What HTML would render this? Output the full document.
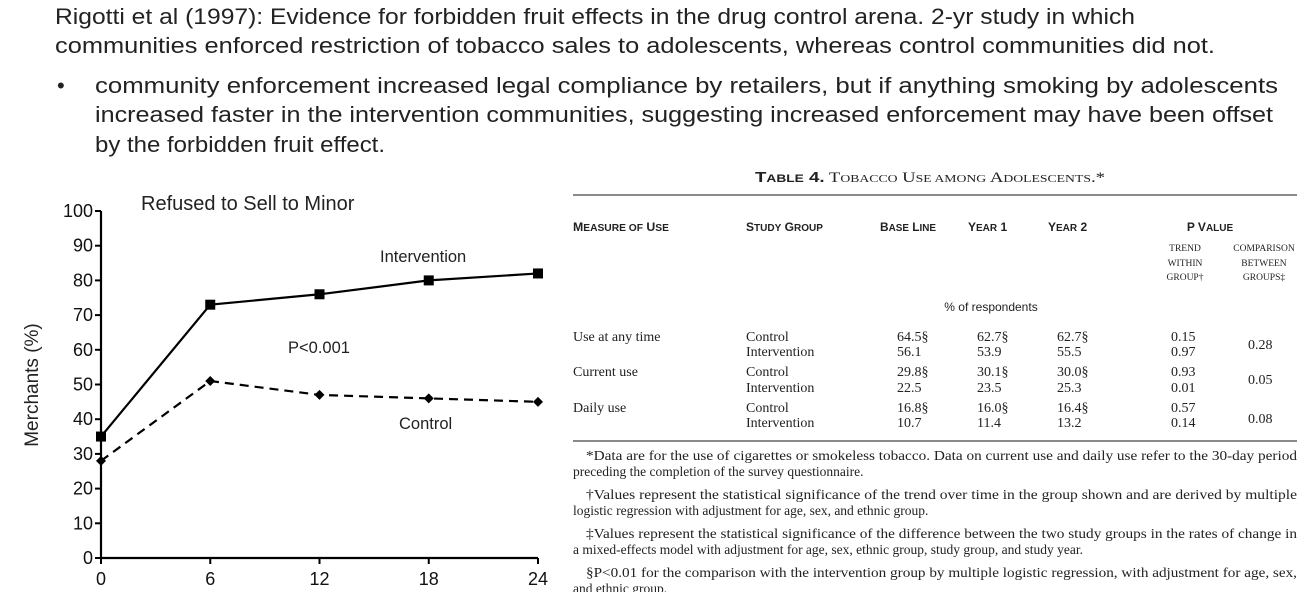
<!DOCTYPE html>
<html><head><meta charset="utf-8"><style>
html,body{margin:0;padding:0;background:#fff;width:1307px;height:592px;overflow:hidden}
svg{display:block}
.s{font-family:"Liberation Sans",sans-serif}
.r{font-family:"Liberation Serif",serif}
</style></head><body>
<svg id="page" width="1307" height="592">
<g class="s" font-size="22" fill="#222">
<text x="55" y="24" textLength="1080" lengthAdjust="spacingAndGlyphs">Rigotti et al (1997): Evidence for forbidden fruit effects in the drug control arena. 2-yr study in which</text>
<text x="55" y="53" textLength="1160" lengthAdjust="spacingAndGlyphs">communities enforced restriction of tobacco sales to adolescents, whereas control communities did not.</text>
<text x="57" y="93">•</text>
<text x="95" y="93" textLength="1183" lengthAdjust="spacingAndGlyphs">community enforcement increased legal compliance by retailers, but if anything smoking by adolescents</text>
<text x="95" y="122" textLength="1178" lengthAdjust="spacingAndGlyphs">increased faster in the intervention communities, suggesting increased enforcement may have been offset</text>
<text x="95" y="152" textLength="290" lengthAdjust="spacingAndGlyphs">by the forbidden fruit effect.</text>
</g>
<g id="chart"></g>
<g class="r" fill="#222">
<text x="930" y="182" text-anchor="middle" font-size="15" textLength="350" lengthAdjust="spacingAndGlyphs"><tspan font-family="Liberation Sans" font-weight="bold">T<tspan font-size="11">ABLE</tspan> 4.</tspan> T<tspan font-size="11">OBACCO</tspan> U<tspan font-size="11">SE AMONG</tspan> A<tspan font-size="11">DOLESCENTS</tspan>.*</text>
<line x1="573" y1="195" x2="1297" y2="195" stroke="#444" stroke-width="1.2"/>
<g font-family="Liberation Sans" font-weight="bold" font-size="12">
<text x="573" y="231" textLength="96" lengthAdjust="spacingAndGlyphs">M<tspan font-size="10">EASURE OF</tspan> U<tspan font-size="10">SE</tspan></text>
<text x="746" y="231" textLength="77" lengthAdjust="spacingAndGlyphs">S<tspan font-size="10">TUDY</tspan> G<tspan font-size="10">ROUP</tspan></text>
<text x="880" y="231" textLength="56" lengthAdjust="spacingAndGlyphs">B<tspan font-size="10">ASE</tspan> L<tspan font-size="10">INE</tspan></text>
<text x="968" y="231">Y<tspan font-size="10">EAR</tspan> 1</text>
<text x="1048" y="231">Y<tspan font-size="10">EAR</tspan> 2</text>
<text x="1210" y="231" text-anchor="middle">P V<tspan font-size="10">ALUE</tspan></text>
</g>
<g font-size="9.5" text-anchor="middle">
<text x="1185" y="251">TREND</text><text x="1185" y="266">WITHIN</text><text x="1185" y="280">GROUP†</text>
<text x="1264" y="251">COMPARISON</text><text x="1264" y="266">BETWEEN</text><text x="1264" y="280">GROUPS‡</text>
</g>
<text x="991" y="311" text-anchor="middle" font-size="12" font-family="Liberation Sans">% of respondents</text>
<g font-size="14">
<text x="573" y="341">Use at any time</text><text x="746" y="341">Control</text><text x="746" y="356">Intervention</text>
<text x="897" y="341">64.5§</text><text x="897" y="356">56.1</text><text x="977" y="341">62.7§</text><text x="977" y="356">53.9</text><text x="1057" y="341">62.7§</text><text x="1057" y="356">55.5</text>
<text x="1171" y="341">0.15</text><text x="1171" y="356">0.97</text><text x="1248" y="349">0.28</text>
<text x="573" y="376">Current use</text><text x="746" y="376">Control</text><text x="746" y="392">Intervention</text>
<text x="897" y="376">29.8§</text><text x="897" y="392">22.5</text><text x="977" y="376">30.1§</text><text x="977" y="392">23.5</text><text x="1057" y="376">30.0§</text><text x="1057" y="392">25.3</text>
<text x="1171" y="376">0.93</text><text x="1171" y="392">0.01</text><text x="1248" y="384">0.05</text>
<text x="573" y="412">Daily use</text><text x="746" y="412">Control</text><text x="746" y="427">Intervention</text>
<text x="897" y="412">16.8§</text><text x="897" y="427">10.7</text><text x="977" y="412">16.0§</text><text x="977" y="427">11.4</text><text x="1057" y="412">16.4§</text><text x="1057" y="427">13.2</text>
<text x="1171" y="412">0.57</text><text x="1171" y="427">0.14</text><text x="1248" y="423">0.08</text>
</g>
<line x1="573" y1="441" x2="1297" y2="441" stroke="#444" stroke-width="1.2"/>
<g font-size="13.5">
<text x="586" y="460" textLength="711" lengthAdjust="spacingAndGlyphs">*Data are for the use of cigarettes or smokeless tobacco. Data on current use and daily use refer to the 30-day period</text>
<text x="573" y="476">preceding the completion of the survey questionnaire.</text>
<text x="586" y="499" textLength="711" lengthAdjust="spacingAndGlyphs">†Values represent the statistical significance of the trend over time in the group shown and are derived by multiple</text>
<text x="573" y="515">logistic regression with adjustment for age, sex, and ethnic group.</text>
<text x="586" y="538" textLength="711" lengthAdjust="spacingAndGlyphs">‡Values represent the statistical significance of the difference between the two study groups in the rates of change in</text>
<text x="573" y="554">a mixed-effects model with adjustment for age, sex, ethnic group, study group, and study year.</text>
<text x="586" y="577" textLength="711" lengthAdjust="spacingAndGlyphs">§P&lt;0.01 for the comparison with the intervention group by multiple logistic regression, with adjustment for age, sex,</text>
<text x="573" y="593">and ethnic group.</text>
</g>
</g>
</svg>
<script>
const months = [0, 6, 12, 18, 24];
const intervention = [35, 73, 76, 80, 82];
const control = [28, 51, 47, 46, 45];
const yTicks = [0, 10, 20, 30, 40, 50, 60, 70, 80, 90, 100];
const xTicks = [0, 6, 12, 18, 24];

const NS = 'http://www.w3.org/2000/svg';
const g = document.getElementById('chart');
const X0 = 101, X1 = 538, Y0 = 558, Y1 = 211;
const xs = v => X0 + (v - 0) / 24 * (X1 - X0);
const ys = v => Y0 - v / 100 * (Y0 - Y1);
function mk(tag, attrs, parent) {
  const e = document.createElementNS(NS, tag);
  for (const k in attrs) e.setAttribute(k, attrs[k]);
  (parent || g).appendChild(e);
  return e;
}
const F = '"Liberation Sans", sans-serif';
let e;
e = mk('line', {x1: X0, y1: Y1, x2: X0, y2: Y0, stroke: '#000', 'stroke-width': 2.2});


e = mk('line', {x1: X0, y1: Y0, x2: X1, y2: Y0, stroke: '#000', 'stroke-width': 2.2});


yTicks.forEach(t => {
  const y = ys(t);
  e = mk('line', {x1: X0 - 6, y1: y, x2: X0, y2: y, stroke: '#000', 'stroke-width': 2});
  
  
  e = mk('text', {x: X0 - 8, y: y + 6, 'text-anchor': 'end', 'font-size': 18, 'font-family': F, fill: '#111'});
  e.textContent = t;
  
  
});
xTicks.forEach(t => {
  const x = xs(t);
  e = mk('line', {x1: x, y1: Y0, x2: x, y2: Y0 + 6, stroke: '#000', 'stroke-width': 2});
  
  
  e = mk('text', {x: x, y: 585, 'text-anchor': 'middle', 'font-size': 18, 'font-family': F, fill: '#111'});
  e.textContent = t;
  
  
});
e = mk('text', {x: 0, y: 0, transform: 'translate(38,385) rotate(-90)', 'text-anchor': 'middle', 'font-size': 19, 'font-family': F, fill: '#222'});
e.textContent = 'Merchants (%)';


e = mk('text', {x: 141, y: 210, 'font-size': 20, 'font-family': F, fill: '#222'});
e.textContent = 'Refused to Sell to Minor';


e = mk('polyline', {points: months.map((m, i) => xs(m) + ',' + ys(intervention[i])).join(' '), fill: 'none', stroke: '#000', 'stroke-width': 2.2});


e = mk('polyline', {points: months.map((m, i) => xs(m) + ',' + ys(control[i])).join(' '), fill: 'none', stroke: '#000', 'stroke-width': 2.2, 'stroke-dasharray': '9,6'});


months.forEach((m, i) => {
  e = mk('rect', {x: xs(m) - 5, y: ys(intervention[i]) - 5, width: 10, height: 10, fill: '#000'});
  
  
  const cx = xs(m), cy = ys(control[i]);
  e = mk('polygon', {points: `${cx},${cy-5} ${cx+5},${cy} ${cx},${cy+5} ${cx-5},${cy}`, fill: '#000'});
  
  
});
[['Intervention', 380, 262, 'intervention-label'], ['P<0.001', 288, 353, 'p-value-label'], ['Control', 399, 429, 'control-label']].forEach(([t, x, y, n]) => {
  e = mk('text', {x: x, y: y, 'font-size': 16.5, 'font-family': F, fill: '#222'});
  e.textContent = t;
  
  
});
</script>
</body></html>
